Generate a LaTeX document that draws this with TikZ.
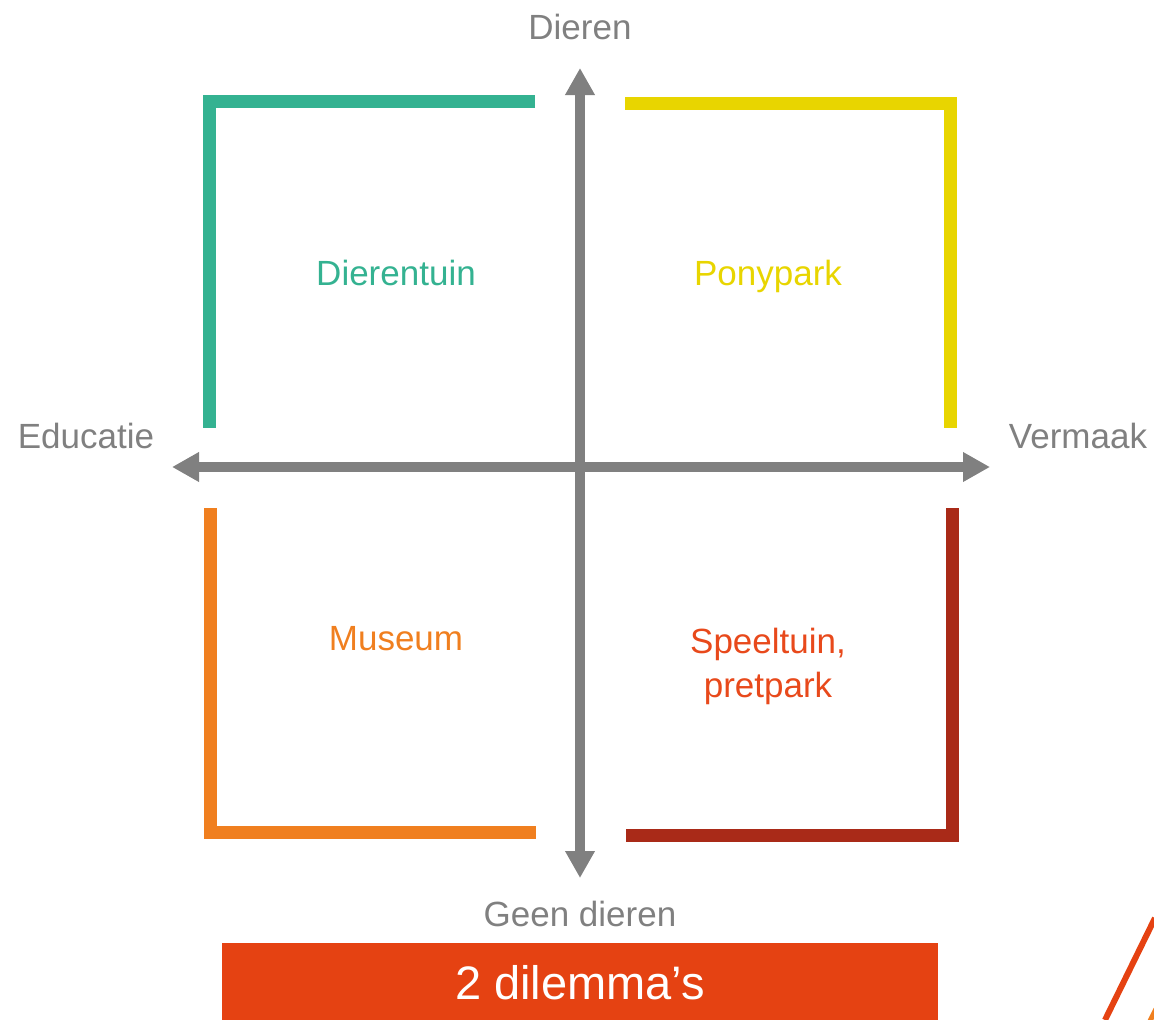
\documentclass[tikz,border=0pt]{standalone}
\usepackage{fontspec}
\setmainfont{Liberation Sans}
\usetikzlibrary{arrows.meta}
\definecolor{axisgray}{HTML}{808080}
\definecolor{cgreen}{HTML}{34B291}
\definecolor{cyellow}{HTML}{E8D500}
\definecolor{corange}{HTML}{F07F1F}
\definecolor{cdarkred}{HTML}{A92A18}
\definecolor{credtext}{HTML}{E8491B}
\definecolor{cbox}{HTML}{E54212}
\tikzset{
  axis/.style={draw=axisgray, line width=10pt, {Triangle[width=28pt,length=27pt]}-{Triangle[width=28pt,length=27pt]}},
  bracket/.style={line width=13pt, line join=miter, line cap=butt},
  axislabel/.style={text=axisgray, font=\fontsize{35pt}{40pt}\selectfont, inner sep=0pt},
  quadlabel/.style={font=\fontsize{35pt}{44pt}\selectfont, inner sep=0pt, align=center}
}
\begin{document}
\begin{tikzpicture}[x=1pt,y=-1pt]
\useasboundingbox (0,0) rectangle (1154,1020);
% brackets
\draw[bracket, cgreen] (535,101.5) -- (209,101.5) -- (209,428);
\draw[bracket, cyellow] (625,103) -- (950.5,103) -- (950.5,428);
\draw[bracket, corange] (210,508) -- (210,832) -- (536,832);
\draw[bracket, cdarkred] (952,508) -- (952,835) -- (626,835);
% axes
\coordinate (left) at (172,467);
\coordinate (right) at (990,467);
\coordinate (top) at (580,68);
\coordinate (bottom) at (580,878);
\draw[axis] (left) -- (right);
\draw[axis] (bottom) -- (top);
% axis labels
\node[axislabel] (dieren) at (580,27) {Dieren};
\node[axislabel] (educatie) at (86,436) {Educatie};
\node[axislabel] (vermaak) at (1078,436) {Vermaak};
\node[axislabel] (geen) at (580,914) {Geen dieren};
% quadrant labels
\node[quadlabel, text=cgreen] (dierentuin) at (396,273) {Dierentuin};
\node[quadlabel, text=cyellow] (ponypark) at (768,276) {Ponypark};
\node[quadlabel, text=corange] (museum) at (396,639) {Museum};
\node[quadlabel, text=credtext] (speeltuin) at (768,666) {Speeltuin,\\pretpark};
% bottom box
\fill[cbox] (222,943) rectangle (938,1020);
\node[text=white, font=\fontsize{47pt}{52pt}\selectfont, inner sep=0pt] (dilemma) at (580,983) {2 dilemma’s};
% decoration bottom right
\draw[cbox, line width=6pt] (1105,1020) -- (1155,918);
\draw[corange, line width=5pt] (1150,1021) -- (1156,1009);
\end{tikzpicture}
\end{document}
